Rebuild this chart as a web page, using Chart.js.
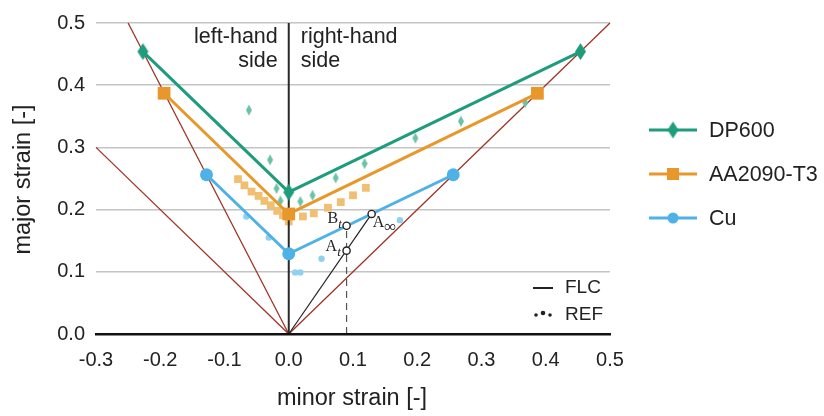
<!DOCTYPE html>
<html>
<head>
<meta charset="utf-8">
<script src="https://cdn.jsdelivr.net/npm/chart.js@4/dist/chart.umd.min.js"></script>
<style>
  html, body { margin: 0; padding: 0; background: #ffffff; }
  #wrap { width: 824px; height: 416px; }
</style>
</head>
<body>
<div id="wrap"><canvas id="flc" width="824" height="416"></canvas></div>
<script>
// Forming limit curves (FLC) and reference measurements (REF), minor vs. major strain
const dp600Minor = [-0.227, 0.0, 0.454];
const dp600Major = [0.454, 0.228, 0.454];
const aa2090Minor = [-0.194, 0.0, 0.387];
const aa2090Major = [0.387, 0.193, 0.387];
const cuMinor = [-0.128, 0.0, 0.256];
const cuMajor = [0.256, 0.129, 0.256];

const dp600RefMinor = [-0.062, -0.029, -0.019, -0.013, 0.018, 0.037, 0.073, 0.118, 0.197, 0.268, 0.368];
const dp600RefMajor = [0.360, 0.280, 0.234, 0.214, 0.213, 0.223, 0.251, 0.274, 0.315, 0.342, 0.372];
const aa2090RefMinor = [-0.079, -0.069, -0.058, -0.047, -0.038, -0.028, -0.018, -0.009, 0.000, 0.022, 0.039, 0.061, 0.081, 0.100, 0.120];
const aa2090RefMajor = [0.249, 0.239, 0.229, 0.222, 0.214, 0.207, 0.198, 0.191, 0.181, 0.189, 0.194, 0.203, 0.212, 0.223, 0.235];
const cuRefMinor = [-0.066, -0.031, 0.010, 0.018, 0.051, 0.173];
const cuRefMajor = [0.189, 0.155, 0.099, 0.099, 0.121, 0.183];

// Linear strain paths from the origin: uniaxial tension, pure shear, equibiaxial
const uniaxialMinor = [0.0, -0.25];
const uniaxialMajor = [0.0, 0.5];
const shearMinor = [0.0, -0.3];
const shearMajor = [0.0, 0.3];
const biaxialMinor = [0.0, 0.5];
const biaxialMajor = [0.0, 0.5];

// Plane-strain divider (minor strain = 0)
const planeMinor = [0.0, 0.0];
const planeMajor = [0.0, 0.5];

// Proportional path O -> A_inf with intermediate states A_t and B_t
const pathMinor = [0.0, 0.129];
const pathMajor = [0.0, 0.193];
const stateNames = ['A', 'A', 'B'];
const stateSubs = ['\u221E', 't', 't'];
const stateMinor = [0.129, 0.090, 0.090];
const stateMajor = [0.193, 0.134, 0.174];
const dropMinor = [0.090, 0.090];
const dropMajor = [0.0, 0.174];

const xTicks = [-0.3, -0.2, -0.1, 0.0, 0.1, 0.2, 0.3, 0.4, 0.5];
const yTicks = [0.0, 0.1, 0.2, 0.3, 0.4, 0.5];

const seriesNames = ['DP600', 'AA2090-T3', 'Cu'];

const COL = {
  dp: '#1e9c7c', dpRef: '#6cc1a6',
  aa: '#e8982a', aaRef: '#f0bf72',
  cu: '#4fb2e6', cuRef: '#92d0f0',
  path: '#9e3426', ink: '#222222', grid: '#c4c4c4'
};
const FONT = '"Liberation Sans", Arial, Helvetica, sans-serif';
const SERIF = '"Liberation Serif", "Times New Roman", serif';

function pts(xs, ys) { return xs.map((x, i) => ({ x: x, y: ys[i] })); }

function diamond(w, h, color) {
  const c = document.createElement('canvas');
  c.width = w + 2; c.height = h + 2;
  const g = c.getContext('2d');
  g.fillStyle = color;
  g.beginPath();
  g.moveTo(c.width / 2, 1);
  g.lineTo(c.width - 1, c.height / 2);
  g.lineTo(c.width / 2, c.height - 1);
  g.lineTo(1, c.height / 2);
  g.closePath();
  g.fill();
  return c;
}
const bigDiamond = diamond(11, 17, COL.dp);
const smallDiamond = diamond(6, 11, COL.dpRef);

function pathSet(xs, ys, color, width, order, dash) {
  return {
    data: pts(xs, ys), showLine: true, borderColor: color, borderWidth: width,
    pointRadius: 0, borderDash: dash || [], order: order, clip: false
  };
}

const datasets = [
  pathSet(uniaxialMinor, uniaxialMajor, COL.path, 1.3, 90),
  pathSet(shearMinor, shearMajor, COL.path, 1.3, 90),
  pathSet(biaxialMinor, biaxialMajor, COL.path, 1.3, 90),
  { data: pts(dp600RefMinor, dp600RefMajor), pointStyle: smallDiamond, pointRadius: 5, showLine: false, order: 80 },
  { data: pts(aa2090RefMinor, aa2090RefMajor), pointStyle: 'rect', pointRadius: 5.5, backgroundColor: COL.aaRef, borderWidth: 0, showLine: false, order: 80 },
  { data: pts(cuRefMinor, cuRefMajor), pointStyle: 'circle', pointRadius: 3.2, backgroundColor: COL.cuRef, borderWidth: 0, showLine: false, order: 80 },
  pathSet(planeMinor, planeMajor, '#2a2a2a', 2, 70),
  { data: pts(cuMinor, cuMajor), showLine: true, borderColor: COL.cu, borderWidth: 3, pointStyle: 'circle', pointRadius: 6.5, backgroundColor: COL.cu, pointBorderWidth: 0, order: 40, clip: false },
  { data: pts(aa2090Minor, aa2090Major), showLine: true, borderColor: COL.aa, borderWidth: 3, pointStyle: 'rect', pointRadius: 9, backgroundColor: COL.aa, pointBorderWidth: 0, order: 30, clip: false },
  { data: pts(dp600Minor, dp600Major), showLine: true, borderColor: COL.dp, borderWidth: 3, pointStyle: bigDiamond, pointRadius: 8, order: 20, clip: false },
  pathSet(pathMinor, pathMajor, COL.ink, 1.2, 10),
  pathSet(dropMinor, dropMajor, '#555555', 1.2, 10, [7, 5]),
  { data: pts(stateMinor, stateMajor), showLine: false, pointStyle: 'circle', pointRadius: 3.6, backgroundColor: '#ffffff', borderColor: COL.ink, borderWidth: 1.4, order: 5, clip: false }
];

// Texts, legends and axis titles drawn on top of the plot
const decorations = {
  id: 'decorations',
  afterDraw(chart) {
    const ctx = chart.ctx;
    const xs = chart.scales.x, ys = chart.scales.y;
    const area = chart.chartArea;
    ctx.save();
    ctx.fillStyle = COL.ink;
    ctx.textBaseline = 'alphabetic';

    // side captions either side of the plane-strain line
    ctx.font = '21.5px ' + FONT;
    const x0 = xs.getPixelForValue(0);
    ctx.textAlign = 'right';
    ctx.fillText('left-hand', x0 - 11, 43);
    ctx.fillText('side', x0 - 11, 67);
    ctx.textAlign = 'left';
    ctx.fillText('right-hand', x0 + 12, 43);
    ctx.fillText('side', x0 + 12, 67);

    // axis titles
    ctx.font = '23.5px ' + FONT;
    ctx.textAlign = 'center';
    ctx.fillText('minor strain [-]', (area.left + area.right) / 2 - 1, 405);
    ctx.save();
    ctx.translate(30, (area.top + area.bottom) / 2 + 1);
    ctx.rotate(-Math.PI / 2);
    ctx.fillText('major strain [-]', 0, 0);
    ctx.restore();

    // state labels A_inf, A_t, B_t
    const offs = [[1, 13], [-21, 0], [-19, -3]];
    for (let i = 0; i < stateNames.length; i++) {
      const px = xs.getPixelForValue(stateMinor[i]) + offs[i][0];
      const py = ys.getPixelForValue(stateMajor[i]) + offs[i][1];
      ctx.textAlign = 'left';
      ctx.font = '16px ' + SERIF;
      ctx.fillText(stateNames[i], px, py);
      const w = ctx.measureText(stateNames[i]).width;
      ctx.font = (stateSubs[i] === 't' ? 'italic 13px ' : '17px ') + SERIF;
      ctx.fillText(stateSubs[i], px + w, py + 5);
    }

    // material legend
    const legendCols = [COL.dp, COL.aa, COL.cu];
    const legendY = [130, 174, 218];
    for (let i = 0; i < 3; i++) {
      const y = legendY[i];
      ctx.strokeStyle = legendCols[i];
      ctx.lineWidth = 3;
      ctx.beginPath(); ctx.moveTo(649, y); ctx.lineTo(697, y); ctx.stroke();
      ctx.fillStyle = legendCols[i];
      if (i === 0) ctx.drawImage(bigDiamond, 673 - bigDiamond.width / 2, y - bigDiamond.height / 2);
      else if (i === 1) ctx.fillRect(667, y - 6, 12, 12);
      else { ctx.beginPath(); ctx.arc(673, y, 5.5, 0, Math.PI * 2); ctx.fill(); }
      ctx.fillStyle = COL.ink;
      ctx.font = '21.5px ' + FONT;
      ctx.textAlign = 'left';
      ctx.textBaseline = 'middle';
      ctx.fillText(seriesNames[i], 709, y + 1);
    }

    // line-style legend
    ctx.font = '19px ' + FONT;
    ctx.fillStyle = COL.ink;
    ctx.strokeStyle = COL.ink;
    ctx.lineWidth = 2;
    ctx.beginPath(); ctx.moveTo(533, 288); ctx.lineTo(553, 288); ctx.stroke();
    ctx.fillText('FLC', 565, 288);
    ctx.beginPath(); ctx.arc(536, 315, 1.8, 0, Math.PI * 2); ctx.fill();
    ctx.beginPath(); ctx.arc(543, 313, 2.3, 0, Math.PI * 2); ctx.fill();
    ctx.beginPath(); ctx.arc(550, 315, 1.8, 0, Math.PI * 2); ctx.fill();
    ctx.fillText('REF', 565, 315);
    ctx.restore();
  }
};

new Chart(document.getElementById('flc'), {
  type: 'scatter',
  data: { datasets: datasets },
  options: {
    responsive: false,
    animation: false,
    devicePixelRatio: 1,
    layout: { padding: { left: 0, top: 15, right: 214, bottom: 0 } },
    plugins: { legend: { display: false }, tooltip: { enabled: false } },
    elements: { line: { tension: 0 } },
    scales: {
      x: {
        type: 'linear', min: -0.3, max: 0.5,
        afterFit(s) { s.height = 82; },
        afterBuildTicks(s) { s.ticks = xTicks.map(v => ({ value: v })); },
        grid: { display: false, drawTicks: false },
        border: { display: true, color: '#111111', width: 2.5, z: 1 },
        ticks: { color: COL.ink, font: { family: FONT, size: 20 }, padding: 14, callback: v => v.toFixed(1) }
      },
      y: {
        type: 'linear', min: 0, max: 0.5,
        afterFit(s) { s.width = 96; },
        afterBuildTicks(s) { s.ticks = yTicks.map(v => ({ value: v })); },
        grid: { color: COL.grid, lineWidth: 1.5, drawTicks: false },
        border: { display: false },
        ticks: { color: COL.ink, font: { family: FONT, size: 20 }, padding: 11, callback: v => v.toFixed(1) }
      }
    }
  },
  plugins: [decorations]
});
</script>
</body>
</html>
